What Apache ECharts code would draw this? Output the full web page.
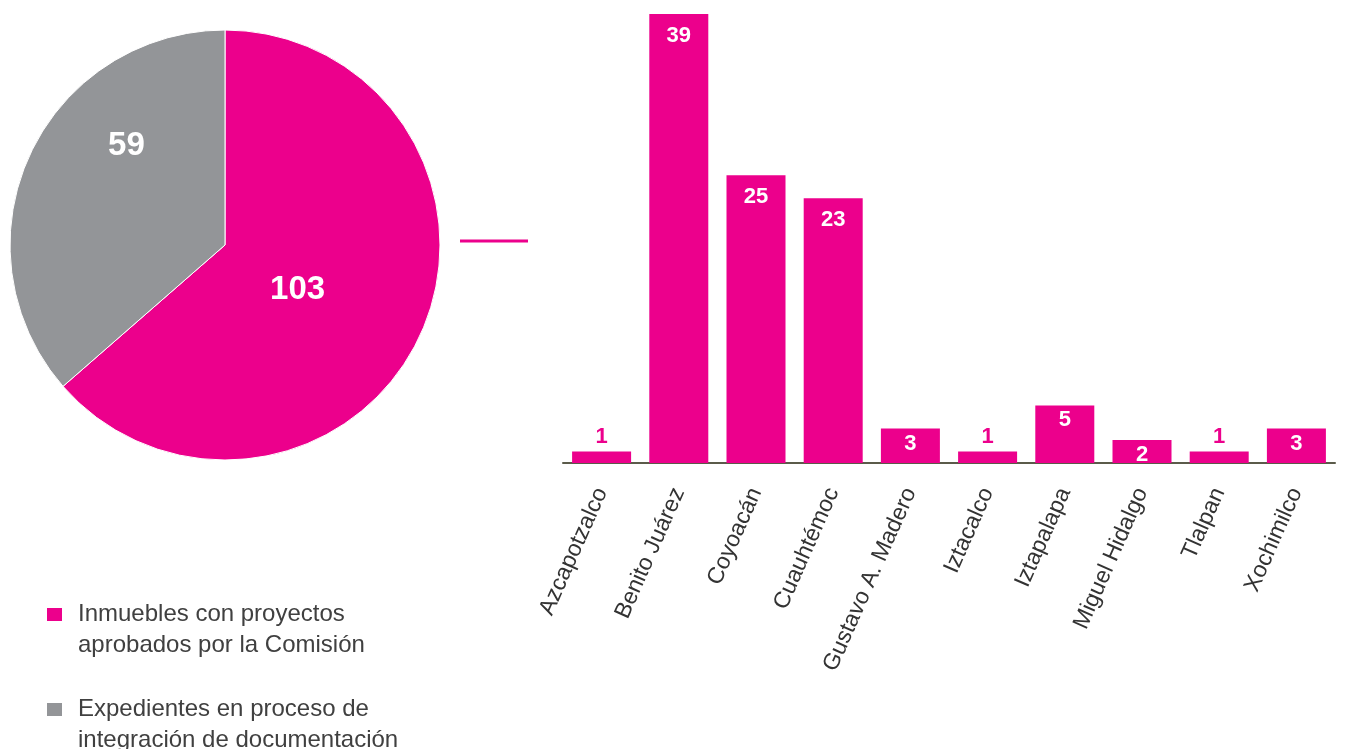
<!DOCTYPE html>
<html>
<head>
<meta charset="utf-8">
<script src="https://cdn.jsdelivr.net/npm/echarts@6/dist/echarts.min.js"></script>
<style>
  html, body { margin: 0; padding: 0; background: #fff; }
  #main { width: 1356px; height: 749px; }
</style>
</head>
<body>
<div id="main"></div>
<script>
// datos del pastel
var pieNames = ['Inmuebles con proyectos\naprobados por la Comisión', 'Expedientes en proceso de\nintegración de documentación'];
var pieValues = [103, 59];

// datos por alcaldía
var alcaldias = ['Azcapotzalco', 'Benito Juárez', 'Coyoacán', 'Cuauhtémoc', 'Gustavo A. Madero',
                 'Iztacalco', 'Iztapalapa', 'Miguel Hidalgo', 'Tlalpan', 'Xochimilco'];
var inmuebles = [1, 39, 25, 23, 3, 1, 5, 2, 1, 3];

var magenta = '#EC008C';
var gris = '#939598';
var fuente = 'Liberation Sans, Arial, sans-serif';

var myChart = echarts.init(document.getElementById('main'));

// barras con valor 1: etiqueta arriba en magenta; barras altas: etiqueta un poco más abajo
var barData = inmuebles.map(function (v) {
    if (v <= 1) {
        return { value: v, label: { position: 'top', distance: 4, color: magenta } };
    }
    if (v >= 10) {
        return { value: v, label: { distance: 11 } };
    }
    return v;
});

var option = {
    animation: false,
    legend: {
        orient: 'vertical',
        left: 45,
        top: 568,
        height: 260,
        padding: 0,
        itemWidth: 17,
        itemHeight: 15,
        itemGap: 2,
        icon: 'rect',
        // línea vacía al inicio para que el cuadro quede junto a la primera línea
        formatter: function (name) {
            return '{s|}\n' + name.split('\n').map(function (t) {
                return '{s|}{t|' + t + '}';
            }).join('\n');
        },
        textStyle: {
            fontFamily: fuente,
            fontSize: 24,
            color: '#404040',
            lineHeight: 31,
            rich: {
                s: { width: 10, lineHeight: 31 },
                t: { fontFamily: fuente, fontSize: 24, color: '#404040', lineHeight: 31 }
            }
        },
        data: pieNames
    },
    grid: {
        left: 563,
        right: 21,
        top: 14,
        bottom: 286
    },
    xAxis: {
        type: 'category',
        data: alcaldias,
        axisTick: { show: false },
        axisLine: { lineStyle: { color: '#5b5b4a', width: 2 } },
        axisLabel: {
            rotate: 66,
            margin: 26,
            interval: 0,
            fontFamily: fuente,
            fontSize: 23,
            color: '#333'
        }
    },
    yAxis: {
        type: 'value',
        min: 0,
        max: 39,
        show: false
    },
    graphic: [
        {
            type: 'line',
            shape: { x1: 460, y1: 241, x2: 528, y2: 241 },
            style: { stroke: magenta, lineWidth: 3 }
        }
    ],
    series: [
        {
            type: 'pie',
            center: [225, 245],
            radius: 215,
            startAngle: 90,
            clockwise: true,
            itemStyle: { borderColor: '#fff', borderWidth: 1 },
            label: {
                position: 'inside',
                formatter: '{c}',
                color: '#fff',
                fontFamily: fuente,
                fontWeight: 'bold',
                fontSize: 33
            },
            labelLayout: function (params) {
                if (params.dataIndex === 0) {
                    return { dx: -28, dy: -1 };
                }
                return { dx: 2, dy: -53 };
            },
            emphasis: { disabled: true },
            data: [
                { name: pieNames[0], value: pieValues[0], itemStyle: { color: magenta } },
                { name: pieNames[1], value: pieValues[1], itemStyle: { color: gris } }
            ]
        },
        {
            type: 'bar',
            data: barData,
            barWidth: 59,
            itemStyle: { color: magenta },
            label: {
                show: true,
                position: 'insideTop',
                distance: 4,
                color: '#fff',
                fontFamily: fuente,
                fontWeight: 'bold',
                fontSize: 22
            },
            emphasis: { disabled: true }
        }
    ]
};

myChart.setOption(option);

window.addEventListener('resize', function () {
    myChart.resize();
});
</script>
</body>
</html>
